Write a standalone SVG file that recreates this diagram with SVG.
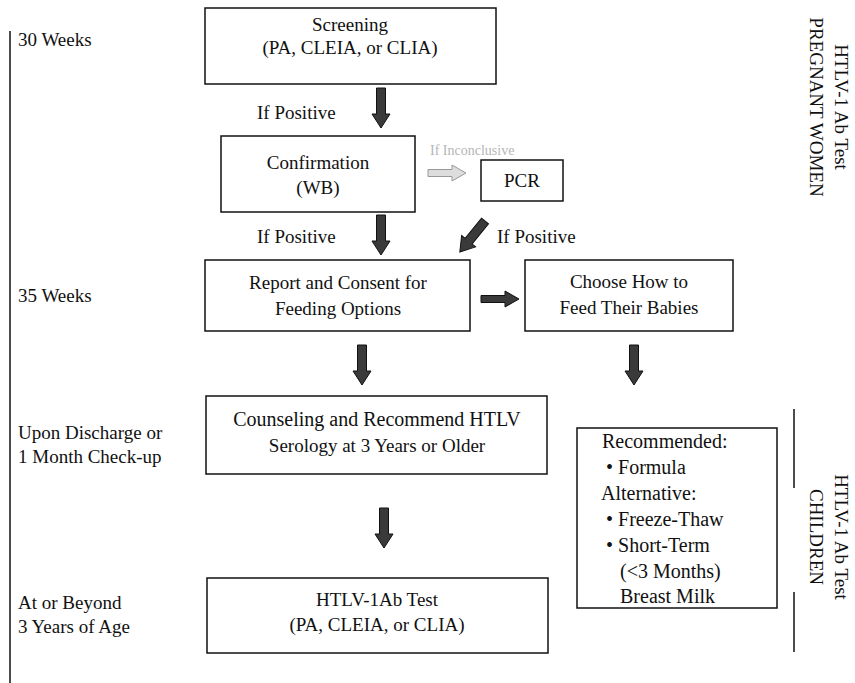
<svg xmlns="http://www.w3.org/2000/svg" xmlns:xlink="http://www.w3.org/1999/xlink" width="855" height="683" viewBox="0 0 855 683">
<style>
  .box{fill:#fff;stroke:#111;stroke-width:1.5}
  .t{font-family:"Liberation Serif","Times New Roman",serif;font-size:19px;fill:#111}
  .l{font-size:20px}
  .c{text-anchor:middle}
  .side{font-family:"Liberation Serif","Times New Roman",serif;font-size:19px;fill:#111;text-anchor:middle}
  .faint{font-family:"Liberation Serif",serif;font-size:14px;fill:#b5b5b5}
  .dark{fill:#3a3a3a;stroke:#111;stroke-width:1}
  .gray{fill:#ddd;stroke:#999;stroke-width:1}
  .rule{stroke:#111;stroke-width:1.5;fill:none}
</style>
<defs>
  <path id="arr" d="M-4.5,0 H4.5 V26 H9 L0,40 L-9,26 H-4.5 Z"/>
  <path id="arrS" d="M-3.5,0 H3.5 V24 H8 L0,38 L-8,24 H-3.5 Z"/>
</defs>
<rect width="855" height="683" fill="#fff"/>

<g id="timeline">
  <line class="rule" x1="10" y1="31" x2="10" y2="683"/>
  <text class="t" x="18" y="46">30 Weeks</text>
  <text class="t" x="18" y="302">35 Weeks</text>
  <text class="t" x="18" y="439">Upon Discharge or</text>
  <text class="t" x="18" y="463">1 Month Check-up</text>
  <text class="t" x="18" y="609">At or Beyond</text>
  <text class="t" x="18" y="633">3 Years of Age</text>
</g>

<g id="side-labels">
  <g transform="translate(835,107) rotate(90)">
    <text class="side" x="0" y="0">HTLV-1 Ab Test</text>
    <text class="side" x="0" y="25">PREGNANT WOMEN</text>
  </g>
  <g transform="translate(835,537) rotate(90)">
    <text class="side" x="0" y="0">HTLV-1 Ab Test</text>
    <text class="side" x="0" y="25">CHILDREN</text>
  </g>
  <line class="rule" x1="794" y1="409" x2="794" y2="488"/>
  <line class="rule" x1="794" y1="592" x2="794" y2="652"/>
</g>

<g id="screening">
  <rect class="box" x="205" y="8" width="291" height="76"/>
  <text class="t c" x="350" y="31">Screening</text>
  <text class="t c" x="350" y="54">(PA, CLEIA, or CLIA)</text>
</g>

<g id="confirmation">
  <rect class="box" x="221" y="136" width="194" height="76"/>
  <text class="t c" x="318" y="169">Confirmation</text>
  <text class="t c" x="318" y="194">(WB)</text>
</g>

<g id="pcr">
  <rect class="box" x="481" y="160" width="82" height="41"/>
  <text class="t c" x="522" y="187">PCR</text>
</g>

<g id="report">
  <rect class="box" x="205" y="260" width="265" height="71"/>
  <text class="t c" x="338" y="289">Report and Consent for</text>
  <text class="t c" x="338" y="315">Feeding Options</text>
</g>

<g id="choose">
  <rect class="box" x="525" y="260" width="208" height="71"/>
  <text class="t c" x="629" y="288">Choose How to</text>
  <text class="t c" x="629" y="314">Feed Their Babies</text>
</g>

<g id="counseling">
  <rect class="box" x="206" y="396" width="341" height="78"/>
  <text class="t c l" x="377" y="426">Counseling and Recommend HTLV</text>
  <text class="t c" x="377" y="452">Serology at 3 Years or Older</text>
</g>

<g id="feeding-options">
  <rect class="box" x="577" y="428" width="200" height="180"/>
  <text class="t l" x="602" y="448">Recommended:</text>
  <text class="t l" x="606" y="474">• Formula</text>
  <text class="t l" x="601" y="500">Alternative:</text>
  <text class="t l" x="606" y="526">• Freeze-Thaw</text>
  <text class="t l" x="606" y="552">• Short-Term</text>
  <text class="t l" x="620" y="578">(&lt;3 Months)</text>
  <text class="t l" x="620" y="603">Breast Milk</text>
</g>

<g id="htlv-test">
  <rect class="box" x="207" y="578" width="341" height="75"/>
  <text class="t c" x="377" y="606">HTLV-1Ab Test</text>
  <text class="t c" x="377" y="631">(PA, CLEIA, or CLIA)</text>
</g>

<g id="connectors">
  <use xlink:href="#arr" class="dark" transform="translate(381,88)"/>
  <text class="t" x="257" y="119">If Positive</text>
  <use xlink:href="#arr" class="dark" transform="translate(381,215)"/>
  <text class="t" x="257" y="243">If Positive</text>
  <text class="faint" x="430" y="155">If Inconclusive</text>
  <use xlink:href="#arrS" class="gray" transform="translate(428,173) rotate(-90)"/>
  <use xlink:href="#arr" class="dark" transform="translate(485,221) rotate(39)"/>
  <text class="t" x="497" y="243">If Positive</text>
  <use xlink:href="#arrS" class="dark" transform="translate(481,299) rotate(-90)"/>
  <use xlink:href="#arr" class="dark" transform="translate(362,345)"/>
  <use xlink:href="#arr" class="dark" transform="translate(634,345)"/>
  <use xlink:href="#arr" class="dark" transform="translate(384,508)"/>
</g>
</svg>
